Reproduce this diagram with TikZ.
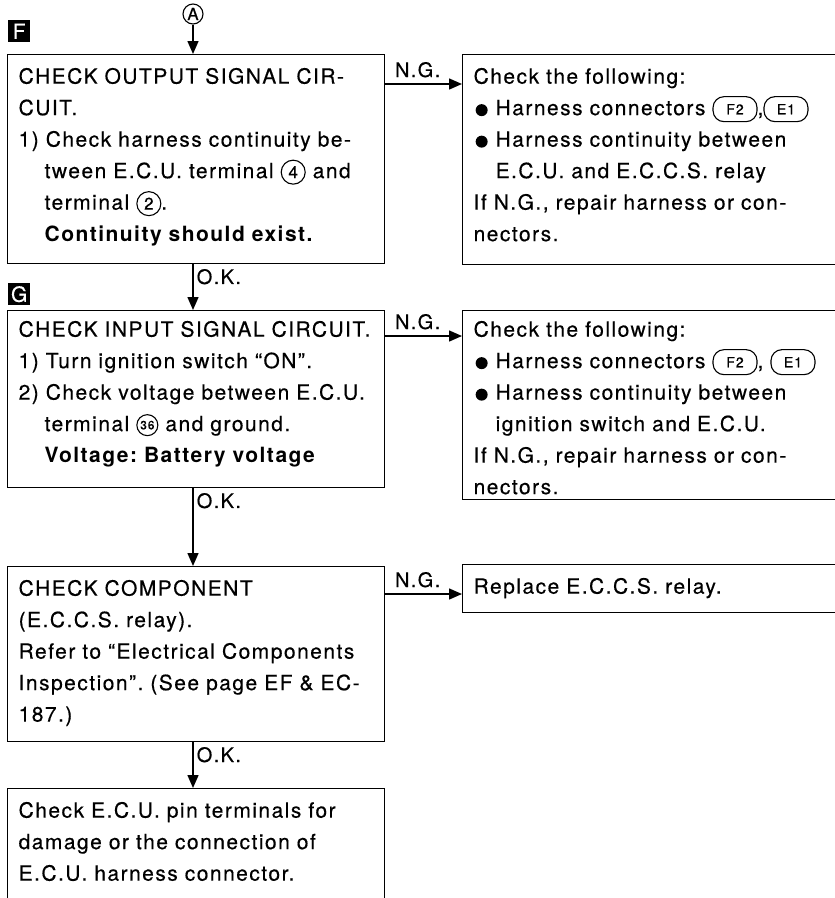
\documentclass[tikz,border=0pt]{standalone}
\usepackage{fontspec}
\setmainfont{TeX Gyre Heros}[LetterSpace=7,UprightFeatures={FakeBold=0.4}]
\usetikzlibrary{arrows.meta,positioning}
\tikzset{
	box/.style={draw,line width=1.3pt,anchor=north west,align=left,inner ysep=0pt,text height=29pt,font=\fontsize{21}{31.5}\selectfont},
	lbox/.style={box,inner xsep=11pt,text width=355pt},
	rbox/.style={box,inner xsep=11pt,text width=378pt},
	tag/.style={fill=black,text=white,anchor=north west,inner sep=0pt,minimum width=22pt,minimum height=22pt,font=\fontsize{21}{21}\selectfont},
	arr/.style={line width=1.5pt,-{Triangle[length=13pt,width=11pt]}},
	ok/.style={anchor=north west,inner sep=0pt,xshift=3pt,yshift=-4pt,font=\fontsize{20}{20}\selectfont},
	ng/.style={anchor=base west,inner sep=0pt,xshift=9pt,yshift=7pt,font=\fontsize{20}{20}\selectfont},
	inl/.style={anchor=center,text width={},text height={},text depth={},align=center,inner sep=0pt}
}
\newcommand{\term}[1]{\tikz[baseline={([yshift=-6pt]t.center)}]\node[inl,draw,circle,line width=1.1pt,minimum size=24pt,font=\fontsize{17}{17}\selectfont] (t) {#1};}
\newcommand{\smallterm}[1]{\tikz[baseline={([yshift=-6pt]t.center)}]\node[inl,draw,circle,line width=1.1pt,minimum size=21pt,font=\fontsize{12}{12}\selectfont] (t) {#1};}
\newcommand{\conn}[1]{\tikz[baseline={([yshift=-6pt]c.center)}]\node[inl,draw,rounded corners=11pt,line width=1.1pt,minimum width=44pt,minimum height=25pt,font=\fontsize{14}{14}\selectfont] (c) {#1};}
\newcommand{\dotmark}{\hspace*{2pt}\tikz[baseline={([yshift=-5pt]d.center)}]\node[inl,circle,fill,draw=none,minimum size=12pt] (d) {};\hspace{8pt}}
\newcommand{\indline}{\hspace*{26pt}}
\newcommand{\subline}{\hspace*{22pt}}

\begin{document}
\frenchspacing
\begin{tikzpicture}[x=1pt,y=-1pt]
	\useasboundingbox (0,0) rectangle (835,898);
	\clip (0,0) rectangle (835,898);

	\node[circle,draw,line width=1.1pt,inner sep=0pt,minimum size=20pt,font=\fontsize{17}{17}\selectfont] (A) at (193,14) {A};

	\node[tag] (F) at (8,20) {F};
	\node[lbox,text depth=180pt] (chkout) at (7,54) {CHECK OUTPUT SIGNAL CIR-\\CUIT.\\1) Check harness continuity be-\\\indline tween E.C.U. terminal \term{4} and\\\indline terminal \term{2}.\\\indline\textbf{Continuity should exist.}};
	\node[rbox,text depth=181pt] (fixout) at (462,54) {Check the following:\\\dotmark Harness connectors \conn{F2},\conn{E1}\\\dotmark Harness continuity between\\\subline E.C.U. and E.C.C.S. relay\\If N.G., repair harness or con-\\nectors.};

	\node[tag] (G) at (8,283) {G};
	\node[lbox,text height=26pt,text depth=151pt] (chkin) at (7,310) {CHECK INPUT SIGNAL CIRCUIT.\\1) Turn ignition switch ``ON''.\\2) Check voltage between E.C.U.\\\indline terminal \smallterm{36} and ground.\\\indline\textbf{Voltage: Battery voltage}};
	\node[rbox,text height=26pt,text depth=163pt] (fixin) at (462,310) {Check the following:\\\dotmark Harness connectors \conn{F2}, \conn{E1}\\\dotmark Harness continuity between\\\subline ignition switch and E.C.U.\\If N.G., repair harness or con-\\nectors.};

	\node[lbox,text depth=146pt] (chkcomp) at (7,566) {CHECK COMPONENT\\(E.C.C.S. relay).\\Refer to ``Electrical Components\\Inspection''. (See page EF \& EC-\\187.)};
	\node[rbox,text depth=19pt] (relay) at (462,564) {Replace E.C.C.S. relay.};

	\node[lbox,text depth=101pt] (chkpin) at (7,788) {Check E.C.U. pin terminals for\\damage or the connection of\\E.C.U. harness connector.};

	\coordinate (ng1) at ([yshift=-30pt]chkout.north east);
	\coordinate (ng2) at ([yshift=-26pt]chkin.north east);
	\coordinate (ng3) at ([yshift=-28pt]chkcomp.north east);

	\draw[arr] (A) -- (A |- chkout.north);
	\draw[arr] (chkout.south -| A) node[ok] {O.K.} -- (chkin.north -| A);
	\draw[arr] (chkin.south -| A) node[ok] {O.K.} -- (chkcomp.north -| A);
	\draw[arr] (chkcomp.south -| A) node[ok] {O.K.} -- (chkpin.north -| A);
	\draw[arr] (ng1) node[ng] {N.G.} -- (ng1 -| fixout.west);
	\draw[arr] (ng2) node[ng] {N.G.} -- (ng2 -| fixin.west);
	\draw[arr] (ng3) node[ng] {N.G.} -- (ng3 -| relay.west);
\end{tikzpicture}
\end{document}
